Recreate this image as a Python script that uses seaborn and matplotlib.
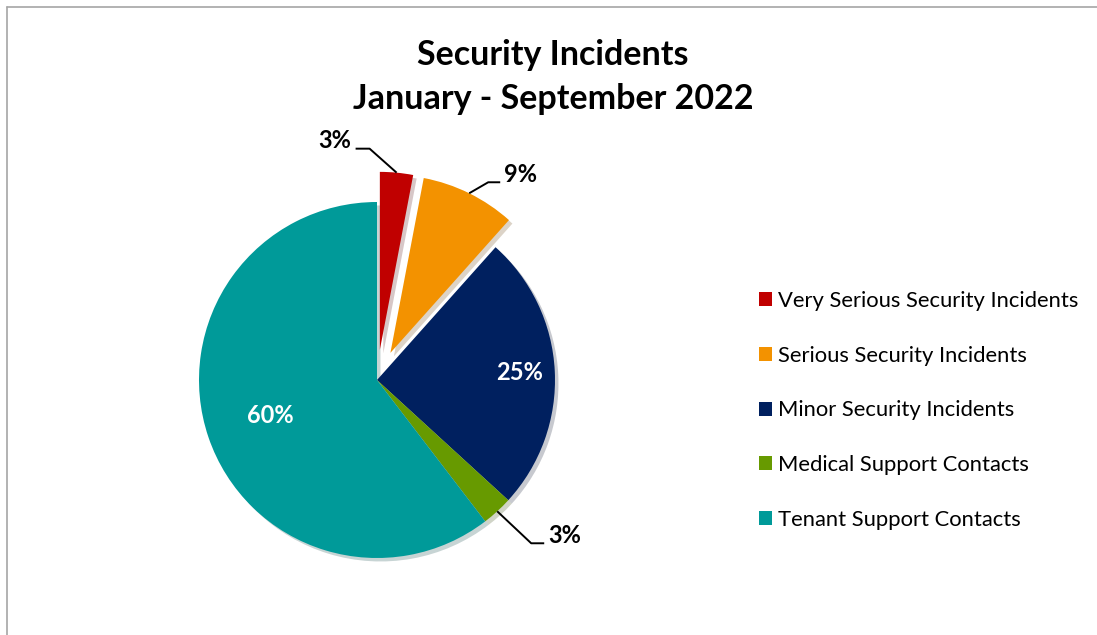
import numpy as np
import matplotlib
matplotlib.use("Agg")
import matplotlib.pyplot as plt
import seaborn as sns
from matplotlib.lines import Line2D

# ---- data ----
categories = ["Very Serious Security Incidents", "Serious Security Incidents",
              "Minor Security Incidents", "Medical Support Contacts",
              "Tenant Support Contacts"]
values = [3.0, 8.6, 25.2, 2.8, 60.4]
colors = ["#C00000", "#F39200", "#00205F", "#679A00", "#009A99"]
explode_amt = [0.17, 0.17, 0.0, 0.0, 0.0]
title = "Security Incidents\nJanuary - September 2022"

sns.set_theme(style="white")
plt.rcParams['font.family'] = ['Lato', 'DejaVu Sans']
plt.rcParams['text.color'] = 'black'

W, H = 1097, 635
fig = plt.figure(figsize=(W / 100, H / 100), dpi=100)
fig.patch.set_facecolor("white")

# axes in pixel units, centred on the pie centre
cx, cy = 377, 380
S = 320
ax = fig.add_axes([(cx - S) / W, (H - cy - S) / H, 2 * S / W, 2 * S / H])

R = 178
wedges, _ = ax.pie(values, colors=colors, startangle=90, counterclock=False,
                   radius=R, explode=[e * R for e in explode_amt],
                   wedgeprops=dict(linewidth=0),
                   shadow=dict(ox=2.5, oy=-2.5, shade=0.6, alpha=0.22))
ax.set_xlim(-S, S)
ax.set_ylim(-S, S)
ax.set_aspect("equal")
ax.axis("off")

pct = [v / sum(values) * 100 for v in values]
total = sum(values)
cum = np.cumsum([0] + values)

def mid_dir(i):
    a = np.deg2rad(90 - (cum[i] + values[i] / 2) / total * 360)
    return np.cos(a), np.sin(a)

# inside labels
inside = {2: 0.80, 4: 0.63}
for i, d in inside.items():
    dx, dy = mid_dir(i)
    ax.text(dx * R * d, dy * R * d, f"{pct[i]:.0f}%", color="white",
            fontsize=17, fontweight="bold", ha="center", va="center")

# outside labels with leader lines: (text offset from anchor, elbow len)
outside = {0: (-62, 32, 14), 1: (51, 19, -12), 3: (67, -24, -13)}
for i, (tx, ty, elb) in outside.items():
    dx, dy = mid_dir(i)
    off = explode_amt[i] * R
    ax_ = dx * (R + off)
    ay_ = dy * (R + off)
    txt_x, txt_y = ax_ + tx, ay_ + ty
    line_y = txt_y - 8
    if tx < 0:
        x0 = txt_x + 21
    else:
        x0 = txt_x - 20
    x1 = x0 + elb
    ax.plot([x0, x1, ax_], [line_y, line_y, ay_], color="black", lw=1.4,
            solid_capstyle="butt")
    ax.text(txt_x, txt_y, f"{pct[i]:.0f}%", color="black", fontsize=17,
            fontweight="bold", ha="center", va="center")

fig.text(553 / W, 1 - 77 / H, title, ha="center", va="center",
         fontsize=24.5, fontweight="bold", color="black", linespacing=1.45)

leg = fig.legend(wedges, categories, loc="upper left",
                 bbox_to_anchor=(748 / W, 1 - 280 / H), frameon=False,
                 fontsize=15.8, handlelength=0.6, handleheight=0.6,
                 handletextpad=0.25, labelspacing=1.58, borderpad=0,
                 labelcolor="black")

# chart border (top and left edges visible)
fig.add_artist(Line2D([7 / W, 1], [1 - 7 / H, 1 - 7 / H], color="#A6A6A6", lw=1.2))
fig.add_artist(Line2D([7 / W, 7 / W], [0, 1 - 7 / H], color="#A6A6A6", lw=1.2))

fig.savefig("out.png", dpi=100, facecolor="white")
